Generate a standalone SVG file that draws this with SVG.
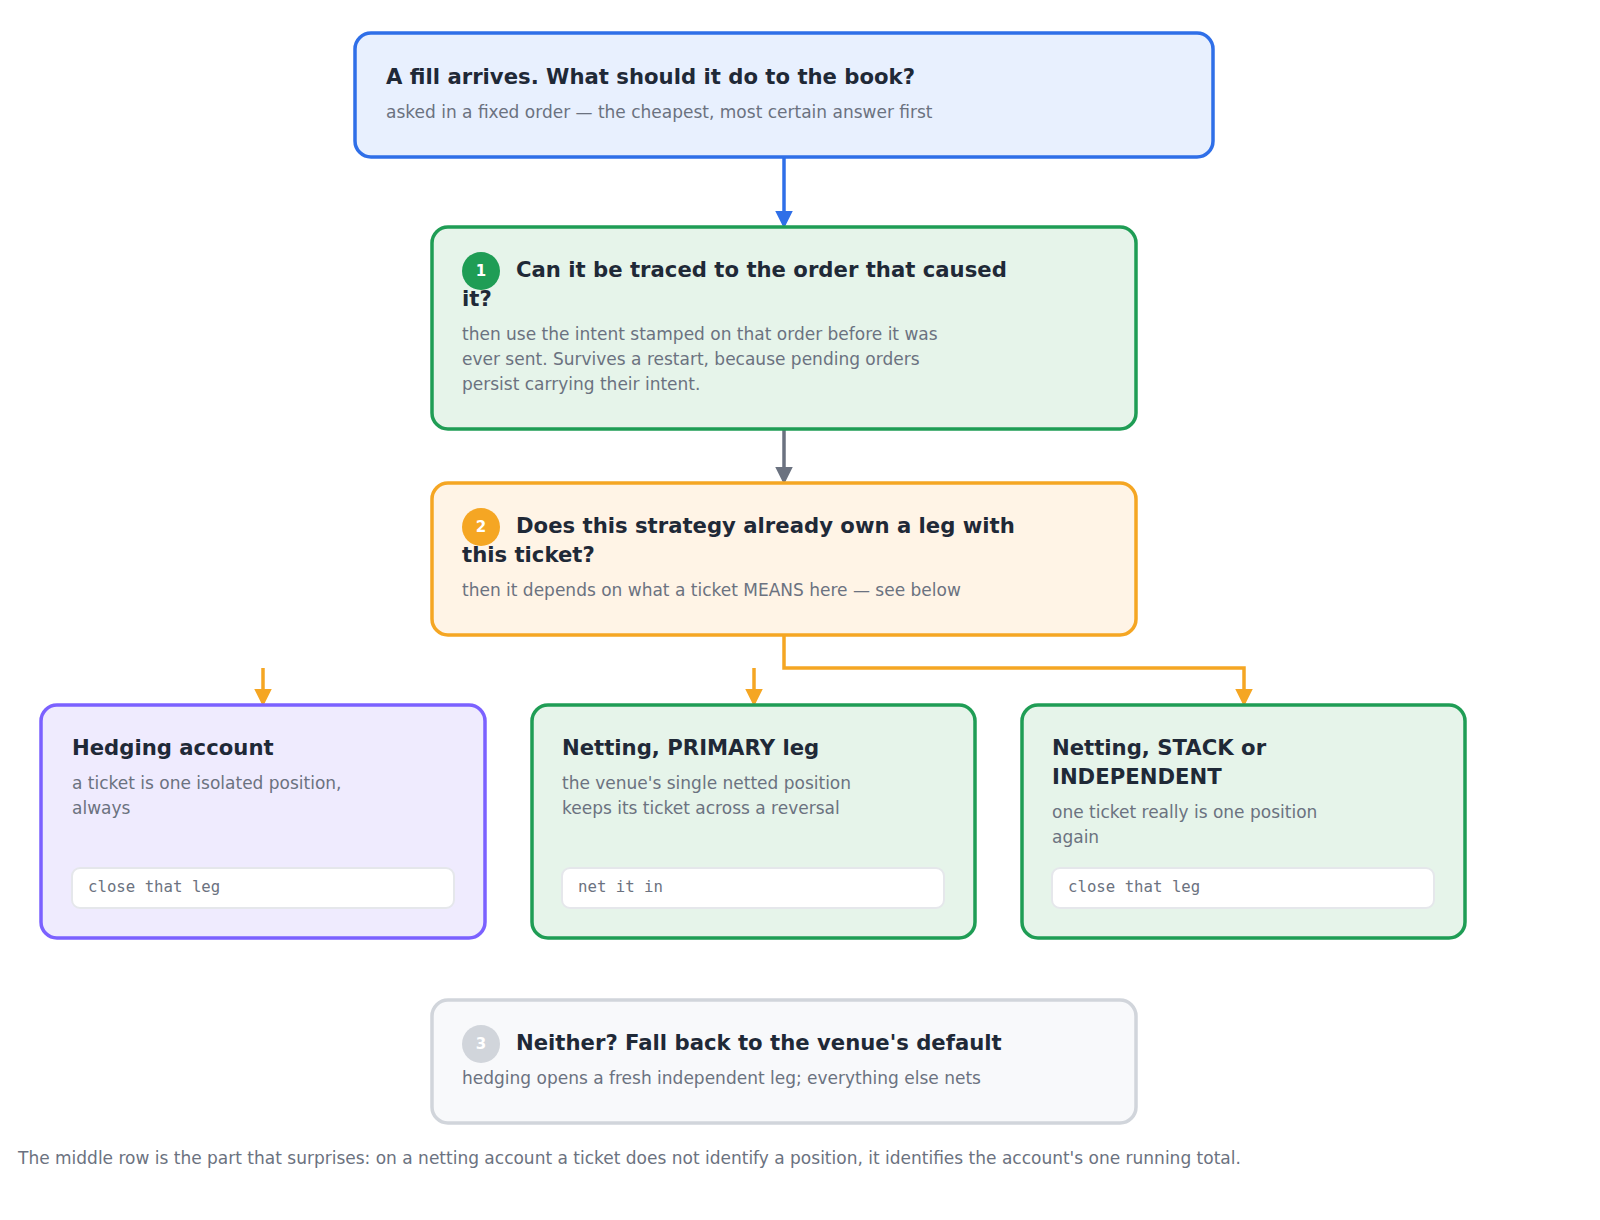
<svg xmlns="http://www.w3.org/2000/svg" width="1600" height="1220" viewBox="0 0 1600 1220">
<style>
.t{font-family:"DejaVu Sans",sans-serif;font-weight:bold;font-size:21.2px;fill:#1f2937}
.s{font-family:"DejaVu Sans",sans-serif;font-size:17px;fill:#6b7280}
.m{font-family:"DejaVu Sans Mono",monospace;font-size:15.7px;fill:#6b7280}
.n{font-family:"DejaVu Sans",sans-serif;font-weight:bold;font-size:15px;fill:#fff;text-anchor:middle}
.code{fill:#fff;stroke:#e5e7eb;stroke-width:2}
.c{fill:none;stroke-width:3.5}
</style>
<defs>
<marker id="ab" viewBox="0 0 10 10" refX="8" refY="5" markerWidth="5" markerHeight="5" orient="auto"><path d="M0,0L10,5L0,10z" fill="#2f6fe8"/></marker>
<marker id="ag" viewBox="0 0 10 10" refX="8" refY="5" markerWidth="5" markerHeight="5" orient="auto"><path d="M0,0L10,5L0,10z" fill="#6b7280"/></marker>
<marker id="ao" viewBox="0 0 10 10" refX="8" refY="5" markerWidth="5" markerHeight="5" orient="auto"><path d="M0,0L10,5L0,10z" fill="#f5a623"/></marker>
</defs>
<rect width="1600" height="1220" fill="#fff"/>
<g id="connectors">
<path class="c" d="M784,157V225" stroke="#2f6fe8" marker-end="url(#ab)"/>
<path class="c" d="M784,429V481" stroke="#6b7280" marker-end="url(#ag)"/>
<path class="c" d="M784,635V668H1244V703" stroke="#f5a623" marker-end="url(#ao)"/>
<path class="c" d="M263,668V703" stroke="#f5a623" marker-end="url(#ao)"/>
<path class="c" d="M754,668V703" stroke="#f5a623" marker-end="url(#ao)"/>
</g>
<g id="start">
<rect x="355" y="33" width="858" height="124" rx="16" fill="#e8f0fe" stroke="#2f6fe8" stroke-width="3.5"/>
<text class="t" x="386" y="84">A fill arrives. What should it do to the book?</text>
<text class="s" x="386" y="118">asked in a fixed order — the cheapest, most certain answer first</text>
</g>
<g id="q1">
<rect x="432" y="227" width="704" height="202" rx="16" fill="#e6f4ea" stroke="#1f9d55" stroke-width="3.5"/>
<circle cx="481" cy="271" r="19" fill="#1f9d55"/><text class="n" x="481" y="276">1</text>
<text class="t" x="516" y="277">Can it be traced to the order that caused</text>
<text class="t" x="462" y="306">it?</text>
<text class="s" x="462" y="340">then use the intent stamped on that order before it was</text>
<text class="s" x="462" y="365">ever sent. Survives a restart, because pending orders</text>
<text class="s" x="462" y="390">persist carrying their intent.</text>
</g>
<g id="q2">
<rect x="432" y="483" width="704" height="152" rx="16" fill="#fff4e6" stroke="#f5a623" stroke-width="3.5"/>
<circle cx="481" cy="527" r="19" fill="#f5a623"/><text class="n" x="481" y="532">2</text>
<text class="t" x="516" y="533">Does this strategy already own a leg with</text>
<text class="t" x="462" y="562">this ticket?</text>
<text class="s" x="462" y="596">then it depends on what a ticket MEANS here — see below</text>
</g>
<g id="hedging">
<rect x="41" y="705" width="444" height="233" rx="16" fill="#efebfe" stroke="#7b61ff" stroke-width="3.5"/>
<text class="t" x="72" y="755">Hedging account</text>
<text class="s" x="72" y="789">a ticket is one isolated position,</text>
<text class="s" x="72" y="814">always</text>
<rect class="code" x="72" y="868" width="382" height="40" rx="8"/>
<text class="m" x="88" y="892">close that leg</text>
</g>
<g id="primary">
<rect x="532" y="705" width="443" height="233" rx="16" fill="#e6f4ea" stroke="#1f9d55" stroke-width="3.5"/>
<text class="t" x="562" y="755">Netting, PRIMARY leg</text>
<text class="s" x="562" y="789">the venue's single netted position</text>
<text class="s" x="562" y="814">keeps its ticket across a reversal</text>
<rect class="code" x="562" y="868" width="382" height="40" rx="8"/>
<text class="m" x="578" y="892">net it in</text>
</g>
<g id="stack">
<rect x="1022" y="705" width="443" height="233" rx="16" fill="#e6f4ea" stroke="#1f9d55" stroke-width="3.5"/>
<text class="t" x="1052" y="755">Netting, STACK or</text>
<text class="t" x="1052" y="784">INDEPENDENT</text>
<text class="s" x="1052" y="818">one ticket really is one position</text>
<text class="s" x="1052" y="843">again</text>
<rect class="code" x="1052" y="868" width="382" height="40" rx="8"/>
<text class="m" x="1068" y="892">close that leg</text>
</g>
<g id="q3">
<rect x="432" y="1000" width="704" height="123" rx="16" fill="#f8f9fb" stroke="#d1d5db" stroke-width="3.5"/>
<circle cx="481" cy="1044" r="19" fill="#d1d5db"/><text class="n" x="481" y="1049">3</text>
<text class="t" x="516" y="1050">Neither? Fall back to the venue's default</text>
<text class="s" x="462" y="1084">hedging opens a fresh independent leg; everything else nets</text>
</g>
<text class="s" x="18" y="1164">The middle row is the part that surprises: on a netting account a ticket does not identify a position, it identifies the account's one running total.</text>
</svg>
